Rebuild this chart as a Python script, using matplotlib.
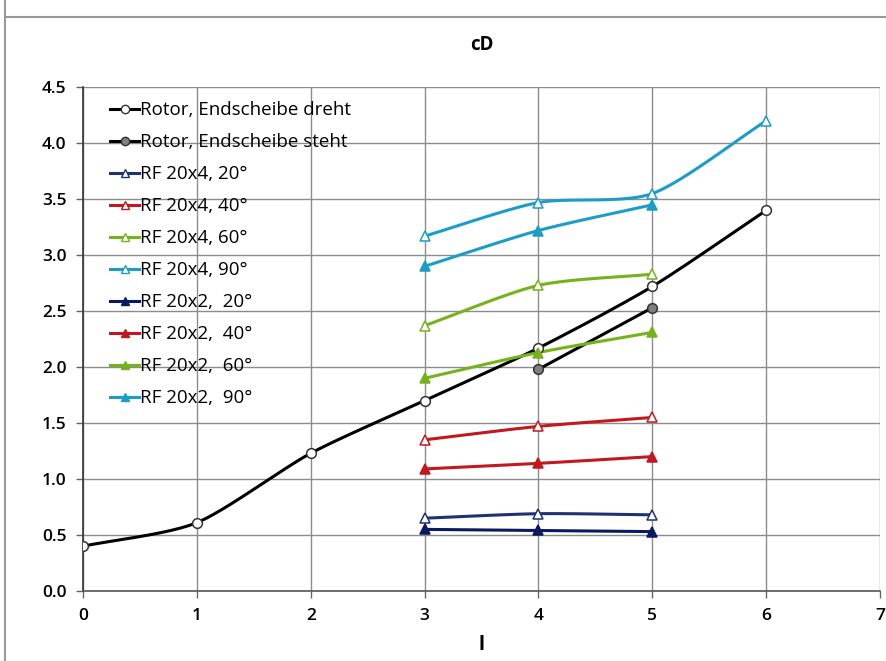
import numpy as np
import matplotlib.pyplot as plt
from matplotlib.lines import Line2D

plt.rcParams['font.family'] = ['Open Sans', 'DejaVu Sans']

# data
x_rotor = [0, 1, 2, 3, 4, 5, 6]
cd_rotor_dreht = [0.40, 0.61, 1.23, 1.70, 2.17, 2.72, 3.40]
x_steht = [4, 5]
cd_rotor_steht = [1.98, 2.53]

x_rf = [3, 4, 5]
x_rf90 = [3, 4, 5, 6]
rf4_20 = [0.65, 0.69, 0.68]
rf4_40 = [1.35, 1.47, 1.55]
rf4_60 = [2.37, 2.73, 2.83]
rf4_90 = [3.17, 3.47, 3.55, 4.20]
rf2_20 = [0.55, 0.54, 0.53]
rf2_40 = [1.09, 1.14, 1.20]
rf2_60 = [1.90, 2.13, 2.31]
rf2_90 = [2.90, 3.22, 3.45]

navy = "#1f3270"
navy2 = "#0b1a60"
red = "#c0191f"
green = "#76b21c"
cyan = "#1b9dc8"


def smooth(xs, ys, n=30):
    # catmull-rom drawing curve through the points (like Excel "smoothed line")
    xs = np.asarray(xs, float)
    ys = np.asarray(ys, float)
    if len(xs) < 3:
        return xs, ys
    px = np.concatenate([[2*xs[0]-xs[1]], xs, [2*xs[-1]-xs[-2]]])
    py = np.concatenate([[2*ys[0]-ys[1]], ys, [2*ys[-1]-ys[-2]]])
    ox, oy = [], []
    t = np.linspace(0, 1, n)
    for i in range(1, len(px)-2):
        p0, p1, p2, p3 = [np.array([px[k], py[k]]) for k in (i-1, i, i+1, i+2)]
        m1 = (p2-p0)/2*0.75
        m2 = (p3-p1)/2*0.75
        h00 = 2*t**3-3*t**2+1
        h10 = t**3-2*t**2+t
        h01 = -2*t**3+3*t**2
        h11 = t**3-t**2
        pts = np.outer(h00, p1)+np.outer(h10, m1)+np.outer(h01, p2)+np.outer(h11, m2)
        ox.extend(pts[:, 0])
        oy.extend(pts[:, 1])
    return np.array(ox), np.array(oy)


fig = plt.figure(figsize=(8.86, 6.61), dpi=100)
ax = fig.add_axes([0.0937, 0.106, 0.8995, 0.762])

series = [
    ("Rotor, Endscheibe dreht", x_rotor, cd_rotor_dreht, "black", "o", "white"),
    ("Rotor, Endscheibe steht", x_steht, cd_rotor_steht, "black", "o", "#808080"),
    ("RF 20x4, 20°", x_rf, rf4_20, navy, "^", "white"),
    ("RF 20x4, 40°", x_rf, rf4_40, red, "^", "white"),
    ("RF 20x4, 60°", x_rf, rf4_60, green, "^", "white"),
    ("RF 20x4, 90°", x_rf90, rf4_90, cyan, "^", "white"),
    ("RF 20x2,  20°", x_rf, rf2_20, navy2, "^", navy2),
    ("RF 20x2,  40°", x_rf, rf2_40, red, "^", red),
    ("RF 20x2,  60°", x_rf, rf2_60, green, "^", green),
    ("RF 20x2,  90°", x_rf, rf2_90, cyan, "^", cyan),
]

handles = []
for label, xs, ys, col, mk, fc in series:
    sx, sy = smooth(xs, ys)
    ax.plot(sx, sy, color=col, lw=2.2, zorder=3)
    mec = "#333333" if col == "black" else col
    ax.plot(xs, ys, ls="none", marker=mk, ms=7, mfc=fc, mec=mec, mew=1.1, zorder=4)
    handles.append(Line2D([], [], color=col, lw=2.2, marker=mk, ms=6, mfc=fc, mec=mec, mew=1.0))

ax.set_xlim(0, 7)
ax.set_ylim(0, 4.5)
ax.set_xticks(range(8))
ax.set_yticks(np.arange(0, 4.51, 0.5))
ax.set_yticklabels([f"{v:.1f}" for v in np.arange(0, 4.51, 0.5)])
ax.grid(True, color="#8c8c8c", lw=1.0)
ax.set_axisbelow(True)
for s in ("top", "right"):
    ax.spines[s].set_visible(False)
ax.spines["left"].set_color("#333333")
ax.spines["bottom"].set_color("#555555")
ax.spines["left"].set_linewidth(1.2)
ax.spines["bottom"].set_linewidth(1.2)
ax.tick_params(length=5, width=1, color="#666666", labelsize=12.5, pad=7)
for lab in ax.get_xticklabels() + ax.get_yticklabels():
    lab.set_fontweight("semibold")

ax.set_title("cD", fontsize=13.5, fontweight="bold", pad=27)
ax.set_xlabel("l", fontsize=14, fontweight="bold", labelpad=8)

ax.legend(handles, [s[0] for s in series], loc="upper left", bbox_to_anchor=(0.018, 0.998),
          frameon=False, fontsize=13.5, handlelength=1.5, handletextpad=0.1,
          labelspacing=0.745, borderaxespad=0.3)

# outer chart frame
fig.add_artist(Line2D([0.006, 1.0], [0.974, 0.974], color="#999999", lw=1.5))
fig.add_artist(Line2D([0.006, 0.006], [0.0, 1.0], color="#999999", lw=1.5))

fig.savefig("out.png", dpi=100)
